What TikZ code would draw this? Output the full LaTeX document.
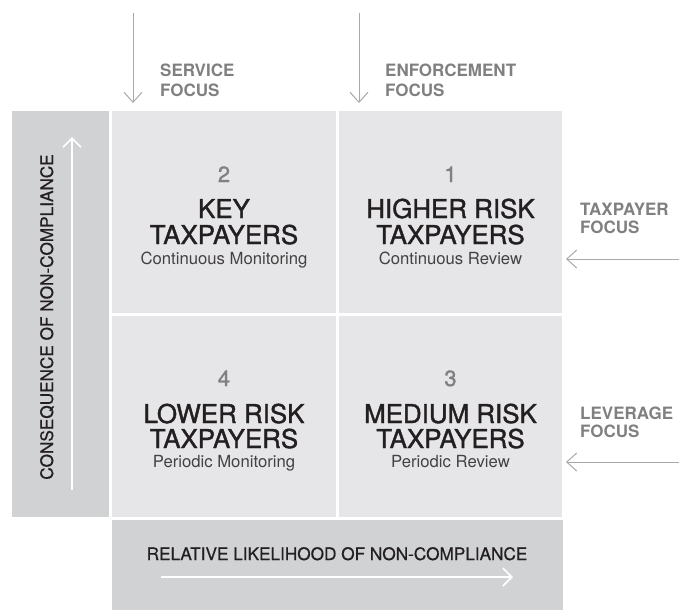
\documentclass[tikz,border=0pt]{standalone}
\usepackage{fontspec}
\setmainfont{TeX Gyre Heros}
\newfontfamily\medfont[FakeBold=1.4]{TeX Gyre Heros}
\newfontfamily\lightmed[FakeBold=0.6]{TeX Gyre Heros}
\usetikzlibrary{arrows.meta}
\definecolor{quad}{HTML}{E6E6E8}
\definecolor{bar}{HTML}{D1D2D4}
\definecolor{lbl}{HTML}{808080}
\definecolor{arr}{HTML}{A7A9AC}
\definecolor{ink}{HTML}{231F20}
\tikzset{
  quadbox/.style={fill=quad,draw=none,minimum width=#1,inner sep=0pt},
  barbox/.style={fill=bar,draw=none,inner sep=0pt},
  numtxt/.style={anchor=base,text=lbl,font=\medfont\fontsize{22}{22}\selectfont,inner sep=0pt},
  titletxt/.style={anchor=base,text=ink,font=\medfont\fontsize{25.9}{25.9}\selectfont,inner sep=0pt},
  subtxt/.style={anchor=base,text=ink!85,font=\fontsize{16.7}{16.7}\selectfont,inner sep=0pt},
  focustxt/.style={anchor=base west,text=lbl,font=\bfseries\fontsize{17}{17}\selectfont,inner sep=0pt},
  axistxt/.style={anchor=base,text=ink,font=\lightmed\fontsize{17.2}{17.2}\selectfont,inner sep=0pt},
  grayarrow/.style={draw=arr,line width=1pt,-{Straight Barb[length=10pt,width=18pt,line width=1pt]}},
  whitearrow/.style={draw=white,line width=1.6pt,-{Straight Barb[length=9pt,width=18pt,line width=1.6pt]}},
}
\begin{document}
\begin{tikzpicture}[x=1pt,y=-1pt]
\useasboundingbox (0,0) rectangle (686,611);
% bars
\node[barbox,minimum width=97pt,minimum height=406pt] (lbar) at (60.5,314) {};
\node[barbox,minimum width=451pt,minimum height=90pt] (bbar) at (337.5,565) {};
% quadrants
\node[quadbox=224pt,minimum height=202pt] (q2) at (224,212) {};
\node[quadbox=223pt,minimum height=202pt] (q1) at (450.5,212) {};
\node[quadbox=224pt,minimum height=201pt] (q4) at (224,416.5) {};
\node[quadbox=223pt,minimum height=201pt] (q3) at (450.5,416.5) {};
% quadrant texts
\node[numtxt] (n2) at (224,182) {2};
\node[titletxt] (t2a) at (224,218) {KEY};
\node[titletxt] (t2b) at (224,244) {TAXPAYERS};
\node[subtxt] (s2) at (224,264) {Continuous Monitoring};
\node[numtxt] (n1) at (450.5,182) {1};
\node[titletxt] (t1a) at (450.5,218) {HIGHER RISK};
\node[titletxt] (t1b) at (450.5,244) {TAXPAYERS};
\node[subtxt] (s1) at (450.5,264) {Continuous Review};
\node[numtxt] (n4) at (224,386) {4};
\node[titletxt] (t4a) at (224,423) {LOWER RISK};
\node[titletxt] (t4b) at (224,448) {TAXPAYERS};
\node[subtxt] (s4) at (224,467) {Periodic Monitoring};
\node[numtxt] (n3) at (450.5,386) {3};
\node[titletxt] (t3a) at (450.5,423) {MEDIUM RISK};
\node[titletxt] (t3b) at (450.5,448) {TAXPAYERS};
\node[subtxt] (s3) at (450.5,467) {Periodic Review};
% focus labels
\node[focustxt] (sf1) at (160,76) {SERVICE};
\node[focustxt] (sf2) at (160,96) {FOCUS};
\node[focustxt] (ef1) at (385,76) {ENFORCEMENT};
\node[focustxt] (ef2) at (385,96) {FOCUS};
\node[focustxt] (tf1) at (580,215) {TAXPAYER};
\node[focustxt] (tf2) at (580,233) {FOCUS};
\node[focustxt] (lf1) at (580,419) {LEVERAGE};
\node[focustxt] (lf2) at (580,437) {FOCUS};
% gray arrows
\coordinate (a1s) at (133,13); \coordinate (a1e) at (133,103);
\coordinate (a2s) at (359,13); \coordinate (a2e) at (359,103);
\coordinate (a3s) at (679,259); \coordinate (a3e) at (566,259);
\coordinate (a4s) at (679,462); \coordinate (a4e) at (566,462);
\draw[grayarrow] (a1s) -- (a1e);
\draw[grayarrow] (a2s) -- (a2e);
\draw[grayarrow] (a3s) -- (a3e);
\draw[grayarrow] (a4s) -- (a4e);
% axis texts
\node[axistxt,rotate=90] (ya) at (53,317) {CONSEQUENCE OF NON-COMPLIANCE};
\node[axistxt] (xa) at (337,560) {RELATIVE LIKELIHOOD OF NON-COMPLIANCE};
\coordinate (w1s) at (72,490); \coordinate (w1e) at (72,137);
\coordinate (w2s) at (161,577); \coordinate (w2e) at (513,577);
\draw[whitearrow] (w1s) -- (w1e);
\draw[whitearrow] (w2s) -- (w2e);
\end{tikzpicture}
\end{document}
